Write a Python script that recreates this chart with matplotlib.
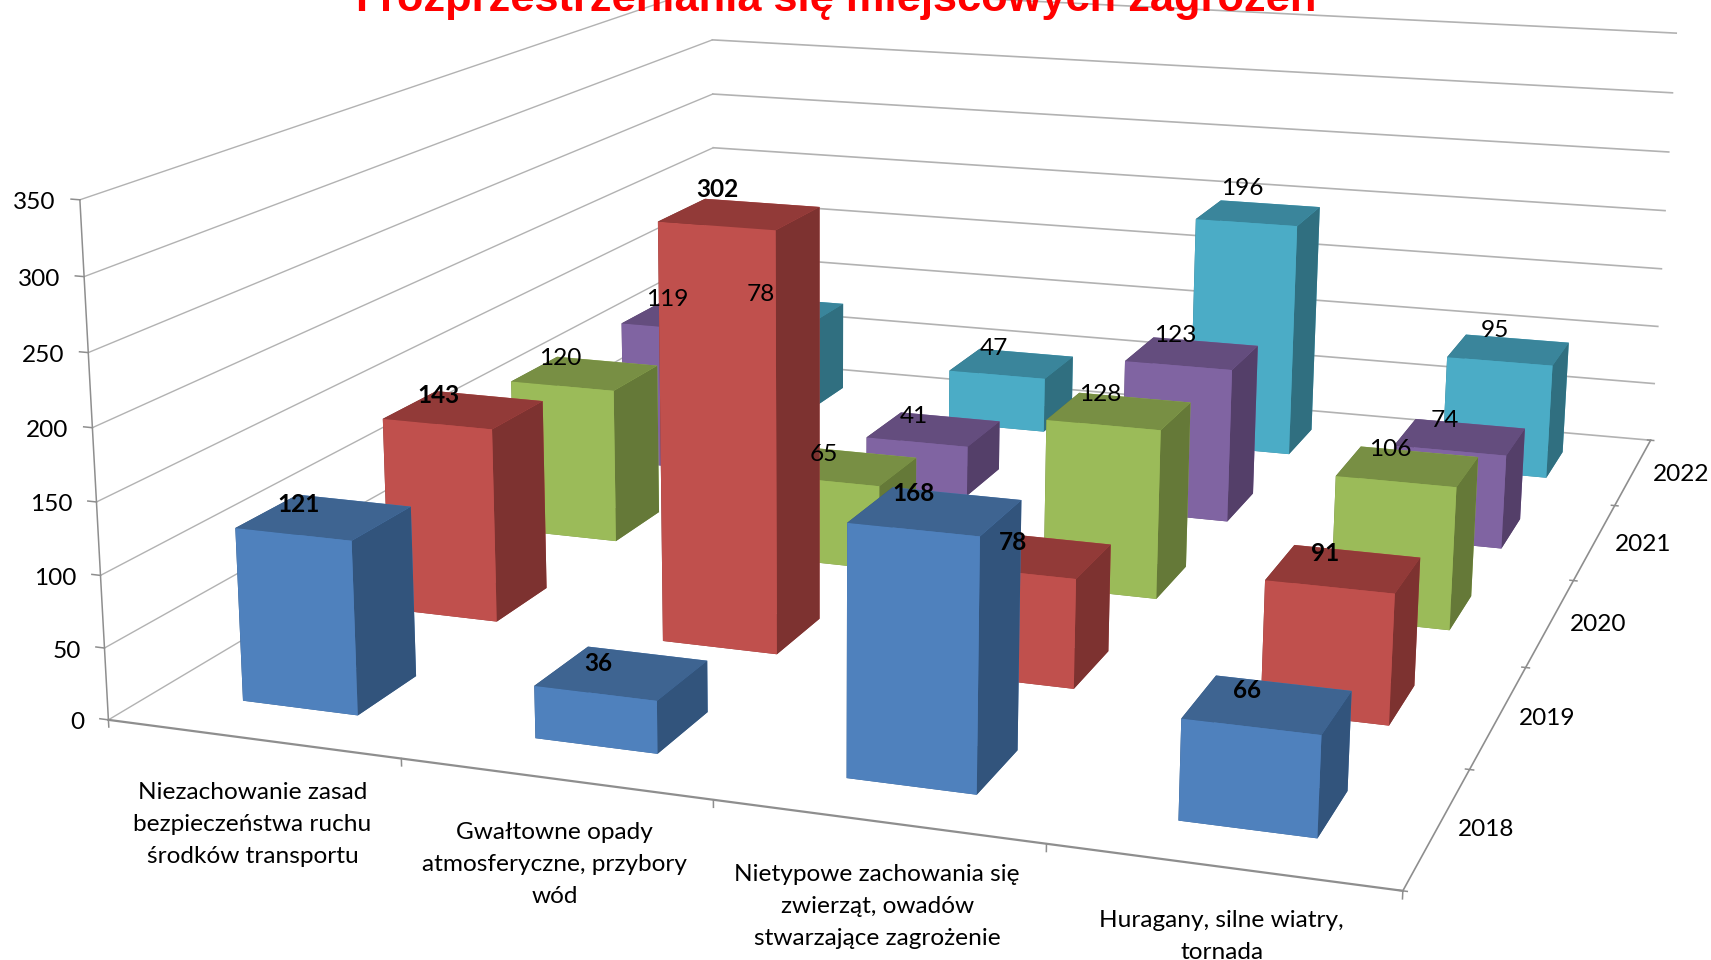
import numpy as np
import matplotlib
matplotlib.use("Agg")
import matplotlib.pyplot as plt
from matplotlib.transforms import Affine2D

W, H = 1711, 960

# ---- data -------------------------------------------------------------
categories = ["Niezachowanie zasad\nbezpieczeństwa ruchu\nśrodków transportu",
              "Gwałtowne opady\natmosferyczne, przybory\nwód",
              "Nietypowe zachowania się\nzwierząt, owadów\nstwarzające zagrożenie",
              "Huragany, silne wiatry,\ntornada"]
years = ["2018", "2019", "2020", "2021", "2022"]
v2018 = [121, 36, 168, 66]
v2019 = [143, 302, 78, 91]
v2020 = [120, 65, 128, 106]
v2021 = [119, 41, 123, 74]
v2022 = [78, 47, 196, 95]
series = [v2018, v2019, v2020, v2021, v2022]
z_ticks = [0, 50, 100, 150, 200, 250, 300, 350]
title = "I rozprzestrzeniania się miejscowych zagrożeń"

# (front, top, side) shades for each series
shades = [("#4F81BD", "#3E6491", "#32547C"),
          ("#C0504D", "#923A38", "#7D3230"),
          ("#9BBB59", "#788F44", "#657938"),
          ("#8064A2", "#644D7E", "#543F69"),
          ("#4BACC6", "#3A859B", "#306F80")]

# ---- camera: calibrated from the box corners & axis ticks of the chart --
world = np.array([
    (0,0,0),(1,0,0),(2,0,0),(3,0,0),(4,0,0),
    (4,1,0),(4,2,0),(4,3,0),(4,4,0),(4,5,0),(0,5,0),
    (0,0,50),(0,0,100),(0,0,150),(0,0,200),(0,0,250),(0,0,300),(0,0,350),
    (4,5,50),(4,5,100),(4,5,150),(4,5,200),(4,5,250),(4,5,300),(4,5,350),
    (0,5,200),(0,5,250),(0,5,300),(0,5,350)], float)
image = np.array([
    (110,721),(401,759),(713,800),(1046,844),(1401,891),
    (1471,769),(1526,667),(1574,580),(1615,505),(1651,440),(713,358),
    (105,648),(101,575),(97,502),(92,427),(88,353),(83,277),(79.5,199),
    (1655,384),(1657,327),(1661,269),(1665,211),(1669,152),(1672,93),(1676,33),
    (713,148),(713,94),(713,40),(713,-15)], float)

def calibrate(world, image):
    Tw = np.diag([1, 1, 0.01, 1.0])
    Ti = np.diag([1e-3, 1e-3, 1.0])
    Xw = np.c_[world, np.ones(len(world))] @ Tw
    uv = image * 1e-3
    rows = []
    for X, (u, v) in zip(Xw, uv):
        rows.append(np.r_[X, np.zeros(4), -u * X])
        rows.append(np.r_[np.zeros(4), X, -v * X])
    _, _, vt = np.linalg.svd(np.array(rows))
    P = np.linalg.inv(Ti) @ vt[-1].reshape(3, 4) @ Tw
    if P[2] @ np.array([2, 2.5, 100, 1]) < 0:
        P = -P
    return P / (P[2] @ np.array([2, 2.5, 100, 1]))

P = calibrate(world, image)

fig = plt.figure(figsize=(W / 100, H / 100), dpi=100, facecolor="white")
plt.rcParams["font.family"] = ["Lato", "DejaVu Sans"]
ax = fig.add_axes([0, 0, 1, 1], projection="3d", computed_zorder=False)
ax.apply_aspect = lambda position=None: None
ax.set_position([0, 0, 1, 1])
ax.set_axis_off()
ax.set_proj_type("ortho")

x0, x1 = ax._viewLim.intervalx
y0, y1 = ax._viewLim.intervaly
sx, sy = (x1 - x0) / W, (y1 - y0) / H
M = np.vstack([sx * P[0] + x0 * P[2],
               (y0 + H * sy) * P[2] - sy * P[1],
               np.array([0, 0, 0, -0.9]),
               P[2]])
ax.get_proj = lambda: M

ax.set_xlim(0, 4); ax.set_ylim(0, 5); ax.set_zlim(0, 350)

def label(x, y, z, s, dx=0, dy=0, **kw):
    tr = ax.transData + Affine2D().translate(dx, dy)
    kw.setdefault("fontsize", 17.6)
    kw.setdefault("ha", "center")
    kw.setdefault("va", "center")
    kw.setdefault("color", "black")
    ax.text(x, y, z, s, transform=tr, zorder=100, clip_on=False, **kw)

GRID, AXC = "#B2B2B2", "#8E8E8E"
nx, ny = len(categories), len(years)
for t in z_ticks:
    ax.plot([0, 0], [0, ny], [t, t], color=GRID, lw=1.0, zorder=1)
    ax.plot([0, nx], [ny, ny], [t, t], color=GRID, lw=1.2, zorder=1)
    ax.plot([-0.03, 0], [0, 0], [t, t], color=AXC, lw=1.1, zorder=2)
    label(0, 0, t, str(t), dx=-24, dy=-3, ha="right")
ax.plot([0, 0], [0, 0], [0, 350], color=AXC, lw=1.1, zorder=2)
ax.plot([0, nx], [0, 0], [0, 0], color=AXC, lw=1.6, zorder=2)
ax.plot([nx, nx], [0, ny], [0, 0], color=AXC, lw=1.2, zorder=2)
for i in range(nx + 1):
    ax.plot([i, i], [0, 0], [0, -5], color=AXC, lw=1.1, zorder=2)
for j in range(ny + 1):
    ax.plot([nx - 0.012, nx + 0.012], [j, j], [0, 0], color=AXC, lw=1.1, zorder=2)

# bars, far to near
order = 10
for j in reversed(range(ny)):
    front, top, side = shades[j]
    for i in range(nx):
        h = series[j][i]
        ax.bar3d(i + 0.3, j + 0.3, 0, 0.4, 0.4, h,
                 color=[top, top, front, front, side, side],
                 shade=False, zorder=order, edgecolor="none", linewidth=0)
        order += 1

# value labels
for j in range(ny):
    for i in range(nx):
        h = series[j][i]
        dx = 1.09 * (-20 + 8 * i + 2.5 * j - 0.5 * i * j)
        dy = 0.08 * h - 12 - 1.09 * (5 - 3.5 * j)
        label(i + 0.38, j + 0.7, h, str(h), dx=dx, dy=dy,
              fontweight="bold" if j < 2 else "normal")

# axis labels
for j, y in enumerate(years):
    label(nx, j + 0.5, 0, y, dx=48, dy=-2.5)
for i, c in enumerate(categories):
    label(i + 0.5, 0, 0, c, dy=-43, va="top", multialignment="center",
          linespacing=1.64)

fig.text(836 / W, 1 - 11 / H, title, color="#FF0000", fontsize=31.2, fontweight="bold",
         family=["Liberation Sans"], ha="center", va="baseline")

fig.savefig("out.png", dpi=100)
